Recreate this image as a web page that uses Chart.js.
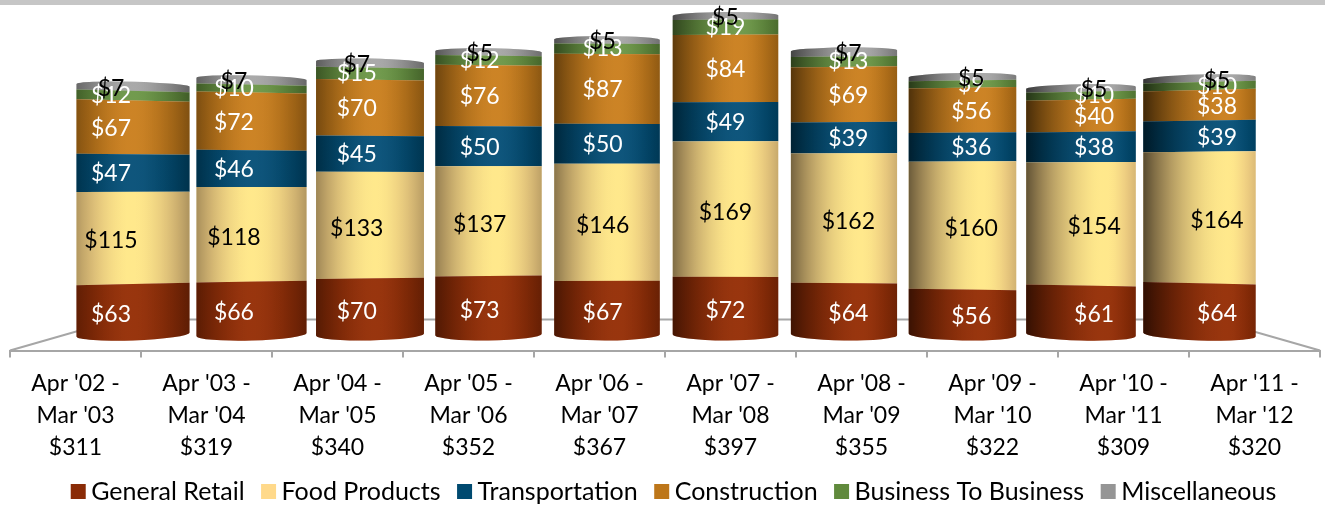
<!DOCTYPE html>
<html>
<head>
<meta charset="utf-8">
<script src="https://cdn.jsdelivr.net/npm/chart.js@4"></script>
<style>
    html, body { margin: 0; padding: 0; background: #fff; overflow: hidden; }
    #topBand { position: absolute; left: 0; top: 0; width: 1325px; height: 5px; background: #c6c6c6; }
    #wrap { position: absolute; left: 0; top: 0; width: 1325px; height: 506px; }
</style>
</head>
<body>
<div id="wrap"><canvas id="chart"></canvas></div>
<div id="topBand"></div>
<script>
'use strict';

const periods = [
    ["Apr '02 -", "Mar '03"], ["Apr '03 -", "Mar '04"], ["Apr '04 -", "Mar '05"], ["Apr '05 -", "Mar '06"], ["Apr '06 -", "Mar '07"],
    ["Apr '07 -", "Mar '08"], ["Apr '08 -", "Mar '09"], ["Apr '09 -", "Mar '10"], ["Apr '10 -", "Mar '11"], ["Apr '11 -", "Mar '12"],
];
const totals = [311, 319, 340, 352, 367, 397, 355, 322, 309, 320];

const generalRetail = [63, 66, 70, 73, 67, 72, 64, 56, 61, 64];
const foodProducts = [115, 118, 133, 137, 146, 169, 162, 160, 154, 164];
const transportation = [47, 46, 45, 50, 50, 49, 39, 36, 38, 39];
const construction = [67, 72, 70, 76, 87, 84, 69, 56, 40, 38];
const businessToBusiness = [12, 10, 15, 12, 13, 19, 13, 9, 10, 10];
const miscellaneous = [7, 7, 7, 5, 5, 5, 7, 5, 5, 5];

const FONT = "Lato, 'Open Sans', sans-serif";
const AXIS_GREY = '#a6a6a6';

const series = [
    { label: 'General Retail', values: generalRetail, color: '#8a2b06', glow: [190, 80, 35, 0.28], text: '#fff', drop: 5 },
    { label: 'Food Products', values: foodProducts, color: '#ffd98a', glow: [255, 236, 140, 0.8], text: '#000', drop: 3 },
    { label: 'Transportation', values: transportation, color: '#004a70', glow: [60, 120, 160, 0.25], text: '#fff', drop: 1 },
    { label: 'Construction', values: construction, color: '#bd7619', glow: [225, 150, 55, 0.42], text: '#fff', drop: 1 },
    { label: 'Business To Business', values: businessToBusiness, color: '#608a3c', glow: [140, 180, 105, 0.4], text: '#fff', drop: 0 },
    { label: 'Miscellaneous', values: miscellaneous, color: '#959595', glow: [190, 190, 190, 0.5], text: '#000', drop: 0 },
];

// Bars read as cylinders: slanted seams, rounded ends, shaded across the width
Chart.BarElement.prototype.draw = function (ctx) {
    const { x, y, base, width, idx, isFirst, isLast, glow } = this;
    const spread = (idx - 4.5) / 4.5;
    const tilt = py => 0.027 * (py - 190) * spread;
    const left = x - width / 2, right = x + width / 2;
    const topTilt = tilt(y), baseTilt = tilt(base);

    ctx.save();
    ctx.beginPath();
    if (isLast) {
        ctx.ellipse(x, y, width / 2, 3.5, Math.atan2(topTilt, width), Math.PI, 2 * Math.PI);
    } else {
        ctx.moveTo(left, y - topTilt / 2);
        ctx.lineTo(right, y + topTilt / 2);
    }
    if (isFirst) {
        ctx.ellipse(x, base, width / 2, 6, Math.atan2(baseTilt, width), 0, Math.PI);
    } else {
        ctx.lineTo(right, base + baseTilt / 2);
        ctx.lineTo(left, base - baseTilt / 2);
    }
    ctx.closePath();
    ctx.fillStyle = this.options.backgroundColor;
    ctx.fill();

    // soft highlight, then darkening toward both edges
    const peak = 0.48 + 0.03 * idx;
    const darkL = 0.3 + 0.04 * idx, darkR = 0.32 - 0.02 * idx;
    const light = ctx.createLinearGradient(left, 0, right, 0);
    const dark = ctx.createLinearGradient(left, 0, right, 0);
    for (let s = 0; s <= 20; s++) {
        const t = s / 20;
        const off = t < peak ? (peak - t) / peak : (t - peak) / (1 - peak);
        const c = Math.cos(off * Math.PI / 2);
        light.addColorStop(t, `rgba(${glow[0]},${glow[1]},${glow[2]},${glow[3] * c * c})`);
        dark.addColorStop(t, `rgba(0,0,0,${(t < peak ? darkL : darkR) * off * off})`);
    }
    ctx.fillStyle = light;
    ctx.fill();
    ctx.fillStyle = dark;
    ctx.fill();
    ctx.restore();
};

const cylinderPlugin = {
    id: 'cylinders',
    afterLayout(chart) {
        // reference legend sits a little right of the canvas centre
        chart.legend.left += 12;
        chart.legend.right += 12;
    },
    afterDatasetsUpdate(chart) {
        chart.data.datasets.forEach((ds, d) => {
            chart.getDatasetMeta(d).data.forEach((el, i) => {
                el.idx = i;
                el.glow = series[d].glow;
                el.isFirst = d === 0;
                el.isLast = d === chart.data.datasets.length - 1;
                el.width = 105.5 + 0.36 * (i - 4.6) * (i - 4.6);
            });
        });
    },
    beforeDatasetsDraw(chart) {
        // floor of the 3D plot, behind the bars
        const { ctx, chartArea: a } = chart;
        const backY = a.bottom - 31, inset = 108;
        ctx.save();
        ctx.strokeStyle = AXIS_GREY;
        ctx.lineWidth = 2;
        ctx.beginPath();
        ctx.moveTo(a.left, a.bottom);
        ctx.lineTo(a.left + inset, backY);
        ctx.lineTo(a.right - inset, backY);
        ctx.lineTo(a.right, a.bottom);
        ctx.stroke();
        ctx.restore();
    },
    afterDatasetsDraw(chart) {
        const { ctx } = chart;
        ctx.save();
        ctx.font = '23px ' + FONT;
        ctx.textAlign = 'center';
        ctx.textBaseline = 'middle';
        chart.data.datasets.forEach((ds, d) => {
            ctx.fillStyle = series[d].text;
            chart.getDatasetMeta(d).data.forEach((el, i) => {
                ctx.fillText('$' + series[d].values[i], el.x - 22 + 4.39 * i, (el.y + el.base) / 2 + series[d].drop);
            });
        });
        ctx.restore();
    },
};

new Chart(document.getElementById('chart'), {
    type: 'bar',
    plugins: [cylinderPlugin],
    data: {
        labels: periods.map((p, i) => [...p, '$' + totals[i]]),
        datasets: series.map(s => ({
            label: s.label,
            data: s.values.map((v, i) => ({ x: i, y: v })),
            backgroundColor: s.color,
            xAxisID: 'xBars',
            barThickness: 109,
        })),
    },
    options: {
        responsive: true, maintainAspectRatio: false,
        animation: false,
        layout: { padding: { left: 10, right: 5, top: 0, bottom: -8 } },
        plugins: {
            tooltip: { enabled: false },
            legend: {
                position: 'bottom',
                labels: {
                    color: '#000',
                    font: { family: FONT, size: 25 },
                    boxWidth: 1, boxHeight: 1, padding: 23.5,
                    // thick outline makes a 15px swatch that sits close to its text
                    generateLabels: () => series.map(s => ({
                        text: s.label, fillStyle: s.color, strokeStyle: s.color, lineWidth: 14,
                    })),
                },
            },
        },
        scales: {
            x: {
                type: 'category',
                position: 'bottom',
                offset: true,
                afterFit: scale => { scale.height = 105; },
                border: { color: AXIS_GREY, width: 2 },
                grid: { drawOnChartArea: false, color: AXIS_GREY, lineWidth: 2, tickLength: 7 },
                ticks: {
                    color: '#000', maxRotation: 0, autoSkip: false, padding: 10,
                    font: { family: FONT, size: 23, lineHeight: 1.4 },
                },
            },
            // bars sit on the narrower back plane of the 3D plot
            xBars: { type: 'linear', display: false, stacked: true, offset: false, min: -1.038, max: 10.017 },
            y: { display: false, stacked: true, min: -20, max: 417.5 },
        },
    },
});
</script>
</body>
</html>
